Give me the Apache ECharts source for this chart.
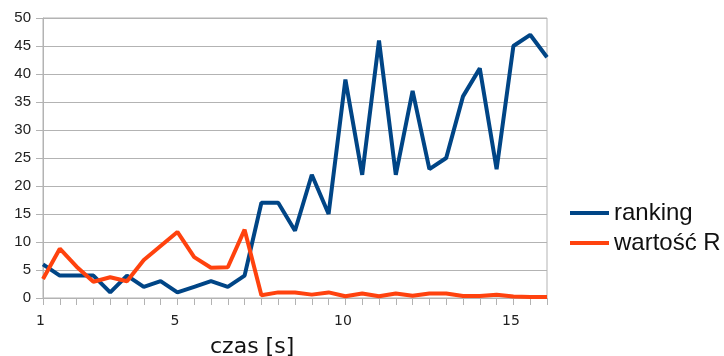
<!DOCTYPE html>
<html>
<head>
<meta charset="utf-8">
<script src="https://cdn.jsdelivr.net/npm/echarts@6/dist/echarts.min.js"></script>
<style>
html,body{margin:0;padding:0;background:#fff;}
#chart{width:724px;height:356px;}
</style>
</head>
<body>
<div id="chart"></div>
<script>
var times = [1, 1.5, 2, 2.5, 3, 3.5, 4, 4.5, 5, 5.5, 6, 6.5, 7, 7.5, 8, 8.5, 9, 9.5, 10, 10.5, 11, 11.5, 12, 12.5, 13, 13.5, 14, 14.5, 15, 15.5, 16];
var ranking = [6, 4, 4, 4, 1, 4, 2, 3, 1, 2, 3, 2, 4, 17, 17, 12, 22, 15, 39, 22, 46, 22, 37, 23, 25, 36, 41, 23, 45, 47, 43];
var wartoscR = [3.4, 8.8, 5.6, 2.9, 3.7, 3.0, 6.8, 9.3, 11.8, 7.3, 5.4, 5.5, 12.2, 0.5, 1.0, 1.0, 0.6, 1.0, 0.3, 0.8, 0.3, 0.8, 0.4, 0.8, 0.8, 0.35, 0.35, 0.6, 0.25, 0.2, 0.2];
var xLabelsShown = [1, 5, 10, 15];
var yTicks = [0, 5, 10, 15, 20, 25, 30, 35, 40, 45, 50];
var seriesNames = ['ranking', 'wartość R'];
var xTitle = 'czas [s]';

function pairs(ys) { return times.map(function (t, i) { return [t, ys[i]]; }); }

var chart = echarts.init(document.getElementById('chart'), null, {renderer: 'canvas'});
chart.setOption({
  animation: false,
  backgroundColor: '#ffffff',
  grid: {left: 43, right: 177, top: 18, bottom: 58, show: true, borderColor: '#b3b3b3', borderWidth: 1},
  xAxis: {
    type: 'value', min: times[0], max: times[times.length - 1], interval: 0.5,
    axisLine: {show: true, lineStyle: {color: '#b3b3b3', width: 1}},
    axisTick: {show: true, length: 7, lineStyle: {color: '#b3b3b3'}},
    splitLine: {show: false},
    axisLabel: {
      margin: 16, fontFamily: 'DejaVu Sans', fontSize: 14, color: '#222', padding: [0, 5, 0, 0],
      formatter: function (v) { return xLabelsShown.indexOf(v) >= 0 ? String(v) : ''; }
    }
  },
  yAxis: {
    type: 'value', min: yTicks[0], max: yTicks[yTicks.length - 1], interval: 5,
    axisLine: {show: true, lineStyle: {color: '#b3b3b3', width: 1}},
    axisTick: {show: true, length: 7, lineStyle: {color: '#b3b3b3'}},
    splitLine: {show: true, lineStyle: {color: '#b3b3b3', width: 1}},
    axisLabel: {margin: 12, fontFamily: 'Liberation Sans', fontSize: 15, color: '#222'}
  },
  legend: {
    orient: 'vertical', left: 570, top: 199, itemGap: 2, padding: 0,
    itemWidth: 39, itemHeight: 4, icon: 'rect',
    textStyle: {fontFamily: 'Liberation Sans', fontSize: 24, color: '#111', lineHeight: 28, padding: [0, 0, 0, 0]},
    data: seriesNames
  },
  graphic: [{
    type: 'text', left: 210, top: 336,
    style: {text: xTitle, font: '22px "DejaVu Sans"', fill: '#111'}
  }],
  series: [
    {name: seriesNames[0], type: 'line', data: pairs(ranking), symbol: 'none', showSymbol: false,
     lineStyle: {color: '#004586', width: 4}, itemStyle: {color: '#004586'}},
    {name: seriesNames[1], type: 'line', data: pairs(wartoscR), symbol: 'none', showSymbol: false,
     lineStyle: {color: '#ff420e', width: 4}, itemStyle: {color: '#ff420e'}}
  ]
});
</script>
</body>
</html>
